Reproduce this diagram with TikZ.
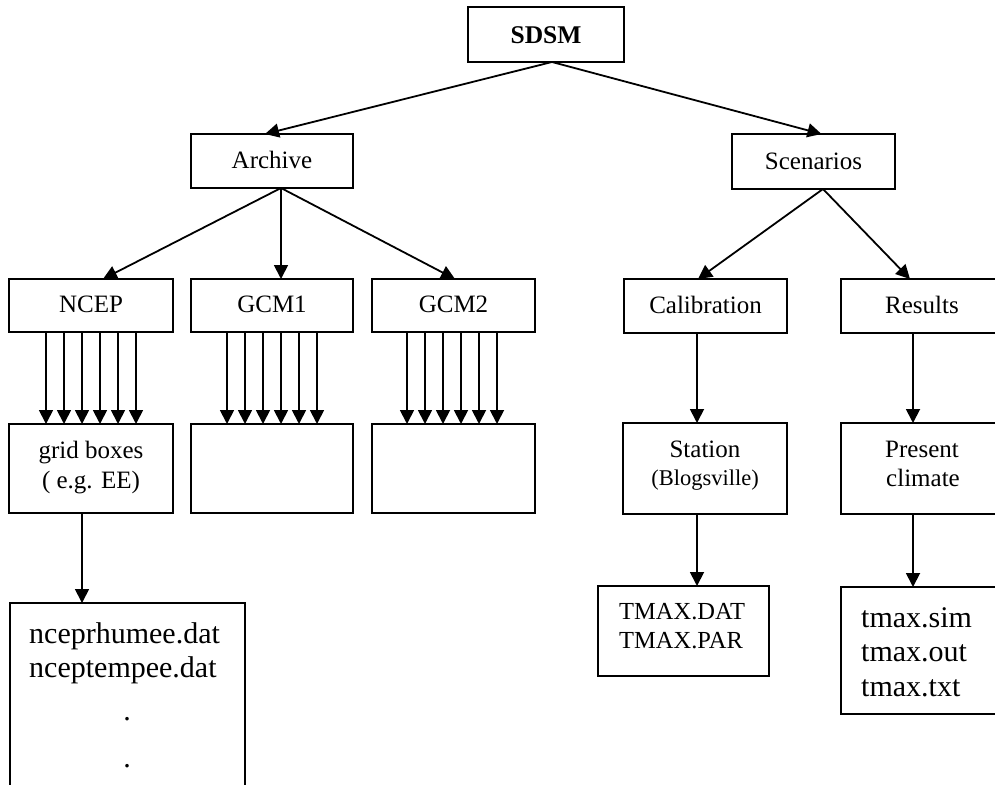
\documentclass[tikz,border=0pt]{standalone}
\usepackage{fontspec}
\setmainfont{Liberation Serif}
\usetikzlibrary{arrows.meta}
\begin{document}
\begin{tikzpicture}[x=1pt,y=-1pt,
  box/.style={draw, line width=1.8pt, rectangle, inner sep=0pt, outer sep=0pt},
  lbl/.style={inner sep=0pt, anchor=base, font=\fontsize{25}{30}\selectfont},
  lblw/.style={lbl, anchor=base west},
  small/.style={font=\fontsize{22.5}{27}\selectfont},
  big/.style={font=\fontsize{30}{36}\selectfont},
  mid/.style={font=\fontsize{24.5}{29}\selectfont},
  arr/.style={line width=1.8pt, -{Triangle[length=14pt,width=14pt]}},
]
\useasboundingbox (0,0) rectangle (995,784);
\clip (0,0) rectangle (995,784);

% boxes
\node[box, minimum width=156pt, minimum height=55pt] (sdsm) at (546,34.5) {};
\node[box, minimum width=162pt, minimum height=54pt] (archive) at (272,161) {};
\node[box, minimum width=163pt, minimum height=55pt] (scen) at (813.5,161.5) {};
\node[box, minimum width=164pt, minimum height=53pt] (ncep) at (91,305.5) {};
\node[box, minimum width=162pt, minimum height=53pt] (gcma) at (272,305.5) {};
\node[box, minimum width=163pt, minimum height=53pt] (gcmb) at (453.5,305.5) {};
\node[box, minimum width=163pt, minimum height=54pt] (calib) at (705.5,306) {};
\node[box, minimum width=162pt, minimum height=54pt] (results) at (922,306) {};
\node[box, minimum width=164pt, minimum height=89pt] (gridA) at (91,468.5) {};
\node[box, minimum width=162pt, minimum height=89pt] (gridB) at (272,468.5) {};
\node[box, minimum width=163pt, minimum height=89pt] (gridC) at (453.5,468.5) {};
\node[box, minimum width=164pt, minimum height=91pt] (station) at (705,468.5) {};
\node[box, minimum width=162pt, minimum height=91pt] (present) at (922,468.5) {};
\node[box, minimum width=171pt, minimum height=90pt] (tmaxbox) at (683.5,631) {};
\node[box, minimum width=162pt, minimum height=127pt] (simbox) at (922,650.5) {};
\node[box, minimum width=235pt, minimum height=197pt] (filesA) at (127.5,701.5) {};

% texts
\node[lbl, font=\fontsize{25.5}{30}\selectfont\bfseries] (tsdsm) at (546,44) {SDSM};
\node[lbl] (tarch) at (272,168) {Archive};
\node[lbl] (tscen) at (813.5,169) {Scenarios};
\node[lbl] (tncep) at (91,312) {NCEP};
\node[lbl] (tgcma) at (272,312) {GCM1};
\node[lbl] (tgcmb) at (453.5,312) {GCM2};
\node[lbl] (tcalib) at (705.5,313) {Calibration};
\node[lbl] (tres) at (922,313) {Results};
\node[lbl] (tgrid1) at (91,458) {grid boxes};
\node[lbl] (tgrid2) at (91,488) {( e.g. EE)};
\node[lbl] (tstat1) at (705,457) {Station};
\node[lbl, small] (tstat2) at (705,485) {(Blogsville)};
\node[lblw] (tpres1) at (885,457) {Present};
\node[lblw] (tpres2) at (886,486) {climate};
\node[lblw, mid] (ttm1) at (619,619) {TMAX.DAT};
\node[lblw, mid] (ttm2) at (619,648) {TMAX.PAR};
\node[lblw, big] (tsim1) at (861,627) {tmax.sim};
\node[lblw, big] (tsim2) at (861,661) {tmax.out};
\node[lblw, big] (tsim3) at (861,696) {tmax.txt};
\node[lblw, big] (tf1) at (29,643) {nceprhumee.dat};
\node[lblw, big] (tf2) at (29,677) {nceptempee.dat};
\node[lbl, big] (tf3) at (127,720) {.};
\node[lbl, big] (tf4) at (127,767) {.};

% connectors
\coordinate (sdsmout) at ([xshift=6pt]sdsm.south);
\draw[arr] (sdsmout) -- ([xshift=-7pt]archive.north);
\draw[arr] (sdsmout) -- ([xshift=8pt]scen.north);
\coordinate (archout) at ([xshift=9pt]archive.south);
\draw[arr] (archout) -- ([xshift=12pt]ncep.north);
\draw[arr] (archout) -- ([xshift=9pt]gcma.north);
\draw[arr] (archout) -- ([xshift=1.5pt]gcmb.north);
\coordinate (scenout) at ([xshift=9.5pt]scen.south);
\draw[arr] (scenout) -- ([xshift=-7.5pt]calib.north);
\draw[arr] (scenout) -- ([xshift=-12pt]results.north);

\foreach \d in {-45,-27,-9,9,27,45} {
  \draw[arr] ([xshift=\d pt]ncep.south) -- ([xshift=\d pt]gridA.north);
  \draw[arr] ([xshift=\d pt]gcma.south) -- ([xshift=\d pt]gridB.north);
  \draw[arr] ([xshift=\d pt-1.5pt]gcmb.south) -- ([xshift=\d pt-1.5pt]gridC.north);
}

\draw[arr] ([xshift=-9pt]gridA.south) -- ([xshift=-9pt]gridA.south |- filesA.north);
\draw[arr] ([xshift=-8.5pt]calib.south) -- ([xshift=-8.5pt]calib.south |- station.north);
\draw[arr] ([xshift=-8pt]station.south) -- ([xshift=-8pt]station.south |- tmaxbox.north);
\draw[arr] ([xshift=-9pt]results.south) -- ([xshift=-9pt]results.south |- present.north);
\draw[arr] ([xshift=-9pt]present.south) -- ([xshift=-9pt]present.south |- simbox.north);
\end{tikzpicture}
\end{document}
